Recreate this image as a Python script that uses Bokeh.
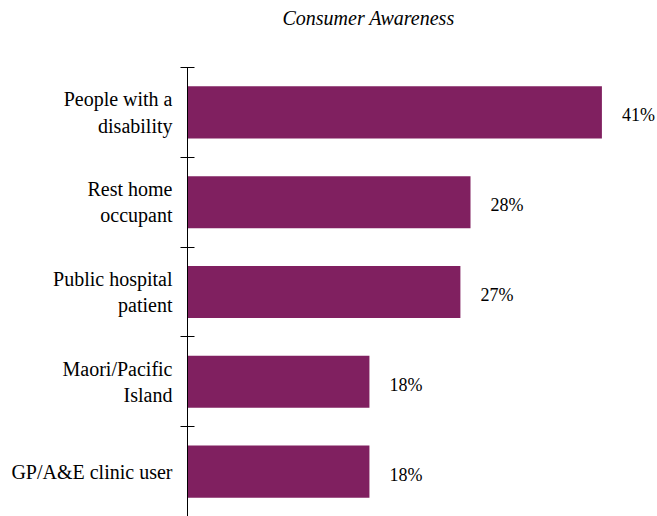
from bokeh.plotting import figure
from bokeh.models import Range1d, LinearAxis, FixedTicker, ColumnDataSource, Title
from bokeh.core.properties import value
from bokeh.embed import file_html
from bokeh.resources import INLINE

categories = ["People with a\ndisability", "Rest home\noccupant", "Public hospital\npatient",
              "Maori/Pacific\nIsland", "GP/A&E clinic user"]
values = [41, 28, 27, 18, 18]
value_labels = ["41%", "28%", "27%", "18%", "18%"]
title_text = "Consumer Awareness"

SERIF = "Liberation Serif"
BAR = "#802060"

n = len(categories)
ypos = [n - i - 0.5 for i in range(n)]  # first category on top
bounds = list(range(n + 1))

p = figure(width=657, height=516, output_backend="svg", toolbar_location=None,
           y_range=Range1d(0, n), x_range=Range1d(0, 46.5),
           x_axis_location=None, y_axis_location=None,
           min_border_left=187, min_border_right=0, min_border_bottom=0, min_border_top=67)

tick_axis = LinearAxis(ticker=FixedTicker(ticks=bounds),
                       major_label_overrides={b: "" for b in bounds},
                       major_tick_in=7, major_tick_out=7, minor_tick_line_color=None,
                       major_label_standoff=0,
                       axis_line_color="black", major_tick_line_color="black")
p.add_layout(tick_axis, "left")

label_axis = LinearAxis(ticker=FixedTicker(ticks=ypos),
                        major_label_overrides={y: c for y, c in zip(ypos, categories)},
                        major_tick_line_color=None, major_tick_in=0, major_tick_out=0,
                        minor_tick_line_color=None,
                        axis_line_color=None, major_label_standoff=8,
                        major_label_text_font=SERIF, major_label_text_font_size="20px",
                        major_label_text_color="black")
p.add_layout(label_axis, "left")

src = ColumnDataSource(dict(y=ypos, val=values, lbl=value_labels))
p.hbar(y="y", left=0, right="val", height=0.58, source=src, fill_color=BAR, line_color=None)
p.text(x="val", y="y", text="lbl", source=src, x_offset=20, y_offset=3,
       text_baseline="middle", text_align="left", text_font=value(SERIF),
       text_font_size="18px", text_color="black")

# spacer between the frame and the title
spacer = Title(text=" ", text_font_size="20px", standoff=15)
p.add_layout(spacer, "above")

p.title.text = title_text
p.title.align = "left"
p.title.offset = 95
p.title.text_font = SERIF
p.title.text_font_style = "italic"
p.title.text_font_size = "20px"
p.title.text_color = "black"
p.title.standoff = 0

p.grid.visible = False
p.outline_line_color = None
p.background_fill_color = "white"
p.border_fill_color = "white"

open("out.html", "w").write(file_html(p, INLINE))
